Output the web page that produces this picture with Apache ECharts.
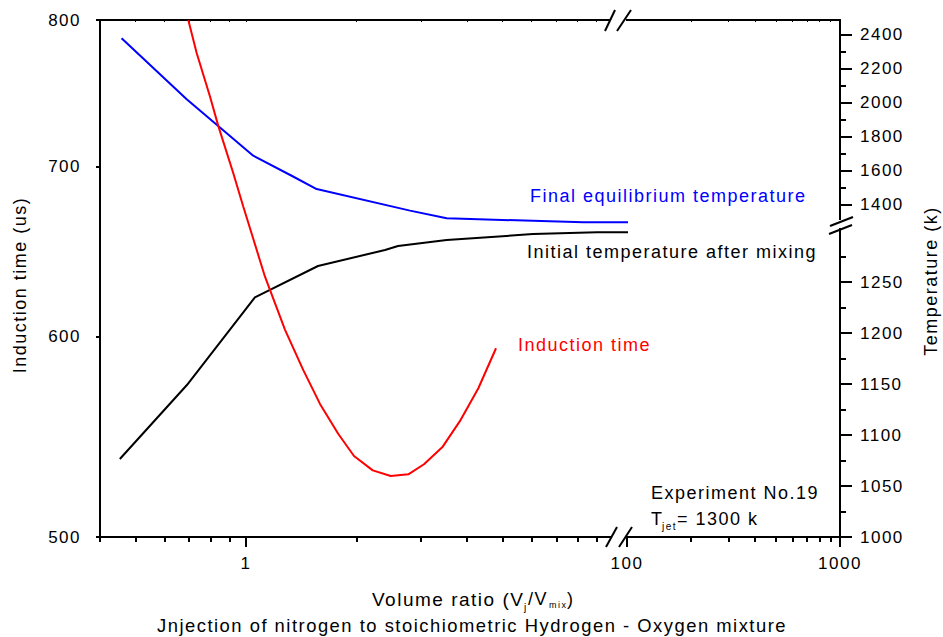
<!DOCTYPE html>
<html>
<head>
<meta charset="utf-8">
<script src="https://cdn.jsdelivr.net/npm/echarts@6/dist/echarts.min.js"></script>
<style>
html, body { margin: 0; padding: 0; background: #fff; }
#chart { width: 943px; height: 637px; }
#chart text { letter-spacing: 1.5px; }
</style>
</head>
<body>
<div id="chart"></div>
<script>
// ---------------- data ----------------
// Induction time (us) vs volume ratio
const inductionRatio = [0.696, 0.7335, 0.7975, 0.840, 0.923, 0.983, 1.126, 1.277, 1.432, 1.590, 1.784, 1.968, 2.214, 2.478, 2.767, 3.053, 3.434, 3.844, 4.294, 4.797];
const inductionTime  = [800, 776.3, 746.2, 726.6, 696, 675.1, 633.5, 603.6, 581.9, 564.3, 549.1, 538.2, 531.2, 528.5, 529.3, 534.2, 542.8, 556.2, 572.4, 593.6];
// Final equilibrium temperature (k)
const finalRatio = [0.458, 0.689, 1.046, 1.331, 1.557, 2.797, 3.52, 8.3, 100];
const finalTemp  = [2381, 2022, 1690, 1572, 1494, 1367, 1322, 1298, 1298];
// Initial temperature after mixing (k)
const initRatio = [0.453, 0.690, 1.057, 1.570, 2.391, 2.594, 3.52, 6.05, 9.04, 100];
const initTemp  = [1076.5, 1149, 1235, 1265.7, 1281.4, 1285.3, 1291.2, 1297, 1298.7, 1298.7];

// tick labels
const inductionTicks = [500, 600, 700, 800];
const upperTempTicks = [1400, 1600, 1800, 2000, 2200, 2400];
const upperTempMinor = [1500, 1700, 1900, 2100, 2300];
const lowerTempTicks = [1000, 1050, 1100, 1150, 1200, 1250];
const lowerTempMinor = [1025, 1075, 1125, 1175, 1225, 1275];
const ratioTicksLow  = [1];
const ratioMinorLow  = [0.4, 0.5, 0.6, 0.7, 0.8, 0.9, 2, 3, 4, 5, 6, 7, 8, 9];
const ratioTicksHigh = [100, 1000];
const ratioMinorHigh = [200, 300, 400, 500, 600, 700, 800, 900];

// ---------------- chart ----------------
const FONT = '"Liberation Sans", Arial, sans-serif';
const zip = (a, b) => a.map((v, i) => [v, b[i]]);
const plain = v => String(v);

const chart = echarts.init(document.getElementById('chart'), null, { renderer: 'svg' });

const lineStyle = { color: '#000', width: 2 };
const tickLbl = { fontFamily: FONT, fontSize: 17, color: '#000', formatter: plain };

const xBase = (grid, min, max) => ({
  type: 'log', logBase: 10, gridIndex: grid, min: min, max: max,
  splitLine: { show: false }, minorTick: { show: false }, minorSplitLine: { show: false }
});
const axLine = show => ({ show: show, onZero: false, lineStyle: lineStyle });

const option = {
  animation: false,
  backgroundColor: '#fff',
  grid: [
    { left: 100, top: 20, width: 527, height: 517 },
    { left: 627, top: 20, width: 213, height: 517 }
  ],
  xAxis: [
    Object.assign(xBase(0, 0.4, 10.91), {
      position: 'bottom',
      axisLine: axLine(true),
      axisTick: { show: true, inside: false, length: 10, lineStyle: lineStyle, customValues: ratioTicksLow },
      axisLabel: Object.assign({ show: true, margin: 18, customValues: ratioTicksLow }, tickLbl)
    }),
    Object.assign(xBase(0, 0.4, 10.91), {
      position: 'bottom',
      axisLine: axLine(false),
      axisTick: { show: true, inside: false, length: 5, lineStyle: lineStyle, customValues: ratioMinorLow },
      axisLabel: { show: false }
    }),
    Object.assign(xBase(0, 0.4, 10.91), {
      position: 'top',
      axisLine: axLine(true),
      axisTick: { show: true, inside: true, length: 2, lineStyle: { color: '#000', width: 1 }, customValues: ratioMinorLow.concat(ratioTicksLow) },
      axisLabel: { show: false }
    }),
    Object.assign(xBase(1, 100, 1000), {
      position: 'bottom',
      axisLine: axLine(true),
      axisTick: { show: true, inside: false, length: 10, lineStyle: lineStyle, customValues: ratioTicksHigh },
      axisLabel: Object.assign({ show: true, margin: 18, showMinLabel: true, showMaxLabel: true, customValues: ratioTicksHigh }, tickLbl)
    }),
    Object.assign(xBase(1, 100, 1000), {
      position: 'bottom',
      axisLine: axLine(false),
      axisTick: { show: true, inside: false, length: 5, lineStyle: lineStyle, customValues: ratioMinorHigh },
      axisLabel: { show: false }
    }),
    Object.assign(xBase(1, 100, 1000), {
      position: 'top',
      axisLine: axLine(true),
      axisTick: { show: true, inside: true, length: 2, lineStyle: { color: '#000', width: 1 }, customValues: ratioMinorHigh },
      axisLabel: { show: false }
    })
  ],
  yAxis: [
    { // 0: induction time, log scale
      type: 'log', logBase: 10, gridIndex: 0, position: 'left', min: 500, max: 800,
      splitLine: { show: false }, minorTick: { show: false },
      axisLine: axLine(true),
      axisTick: { show: true, inside: false, length: 4, lineStyle: lineStyle, customValues: inductionTicks },
      axisLabel: Object.assign({ show: true, margin: 19, customValues: inductionTicks }, tickLbl)
    },
    { // 1: temperature, upper segment (above break)
      type: 'value', gridIndex: 0, position: 'right', offset: 213, min: -552.9, max: 2488.2,
      splitLine: { show: false },
      axisLine: axLine(false),
      axisTick: { show: true, inside: false, length: 12, lineStyle: lineStyle, customValues: upperTempTicks },
      axisLabel: Object.assign({ show: true, margin: 20, customValues: upperTempTicks }, tickLbl)
    },
    { // 2: upper segment minor ticks
      type: 'value', gridIndex: 0, position: 'right', offset: 213, min: -552.9, max: 2488.2,
      splitLine: { show: false },
      axisLine: axLine(false),
      axisTick: { show: true, inside: false, length: 6, lineStyle: lineStyle, customValues: upperTempMinor },
      axisLabel: { show: false }
    },
    { // 3: temperature, lower segment (below break)
      type: 'value', gridIndex: 0, position: 'right', offset: 213, min: 1000, max: 1506.9,
      splitLine: { show: false },
      axisLine: axLine(true),
      axisTick: { show: true, inside: false, length: 12, lineStyle: lineStyle, customValues: lowerTempTicks },
      axisLabel: Object.assign({ show: true, margin: 20, customValues: lowerTempTicks }, tickLbl)
    },
    { // 4: lower segment minor ticks
      type: 'value', gridIndex: 0, position: 'right', offset: 213, min: 1000, max: 1506.9,
      splitLine: { show: false },
      axisLine: axLine(false),
      axisTick: { show: true, inside: false, length: 6, lineStyle: lineStyle, customValues: lowerTempMinor },
      axisLabel: { show: false }
    },
    { type: 'value', gridIndex: 1, show: false, min: 0, max: 1 }
  ],
  series: [
    {
      name: 'Induction time', type: 'line', xAxisIndex: 0, yAxisIndex: 0,
      data: zip(inductionRatio, inductionTime), showSymbol: false, symbol: 'none',
      lineStyle: { color: '#ff0000', width: 2 }, itemStyle: { color: '#ff0000' }, z: 3
    },
    {
      name: 'Final equilibrium temperature', type: 'line', xAxisIndex: 0, yAxisIndex: 1,
      data: zip(finalRatio, finalTemp), showSymbol: false, symbol: 'none',
      lineStyle: { color: '#0000ff', width: 2 }, itemStyle: { color: '#0000ff' }, z: 2
    },
    {
      name: 'Initial temperature after mixing', type: 'line', xAxisIndex: 0, yAxisIndex: 3,
      data: zip(initRatio, initTemp), showSymbol: false, symbol: 'none',
      lineStyle: { color: '#000000', width: 2 }, itemStyle: { color: '#000' }, z: 2
    }
  ],
  graphic: [
    // axis break marks
    { type: 'rect', z: 100, shape: { x: 611, y: 534, width: 15, height: 6 }, style: { fill: '#fff' } },
    { type: 'line', z: 101, shape: { x1: 606, y1: 547, x2: 617, y2: 527 }, style: { stroke: '#000', lineWidth: 2 } },
    { type: 'line', z: 101, shape: { x1: 619, y1: 547, x2: 632, y2: 527 }, style: { stroke: '#000', lineWidth: 2 } },
    { type: 'rect', z: 100, shape: { x: 611, y: 17, width: 15, height: 6 }, style: { fill: '#fff' } },
    { type: 'line', z: 101, shape: { x1: 605, y1: 31, x2: 615, y2: 10 }, style: { stroke: '#000', lineWidth: 2 } },
    { type: 'line', z: 101, shape: { x1: 617, y1: 31, x2: 631, y2: 10 }, style: { stroke: '#000', lineWidth: 2 } },
    { type: 'rect', z: 100, shape: { x: 837, y: 220, width: 6, height: 8 }, style: { fill: '#fff' } },
    { type: 'line', z: 101, shape: { x1: 829, y1: 234, x2: 852, y2: 225 }, style: { stroke: '#000', lineWidth: 2 } },
    { type: 'line', z: 101, shape: { x1: 830, y1: 226, x2: 853, y2: 217 }, style: { stroke: '#000', lineWidth: 2 } },
    // axis titles
    { type: 'text', z: 50, x: 20, y: 285, rotation: Math.PI / 2,
      style: { text: 'Induction time (us)', font: '18px ' + FONT, fill: '#000', textAlign: 'center', textVerticalAlign: 'middle', align: 'center', verticalAlign: 'middle' } },
    { type: 'text', z: 50, x: 931, y: 281, rotation: Math.PI / 2,
      style: { text: 'Temperature (k)', font: '18px ' + FONT, fill: '#000', textAlign: 'center', textVerticalAlign: 'middle', align: 'center', verticalAlign: 'middle' } },
    // x title with subscripts
    { type: 'text', z: 50, x: 372, y: 599, style: { text: 'Volume ratio (V', font: '19px ' + FONT, fill: '#000', textVerticalAlign: 'middle', verticalAlign: 'middle' } },
    { type: 'text', z: 50, x: 524, y: 607, style: { text: 'j', font: '10px ' + FONT, fill: '#000', textVerticalAlign: 'middle', verticalAlign: 'middle' } },
    { type: 'text', z: 50, x: 528, y: 599, style: { text: '/V', font: '18px ' + FONT, fill: '#000', textVerticalAlign: 'middle', verticalAlign: 'middle' } },
    { type: 'text', z: 50, x: 549, y: 605, style: { text: 'mix', font: '9px ' + FONT, fill: '#000', textVerticalAlign: 'middle', verticalAlign: 'middle' } },
    { type: 'text', z: 50, x: 567, y: 599, style: { text: ')', font: '18px ' + FONT, fill: '#000', textVerticalAlign: 'middle', verticalAlign: 'middle' } },
    { type: 'text', z: 50, x: 472, y: 625, style: { text: 'Jnjection of nitrogen to stoichiometric Hydrogen - Oxygen mixture', font: '18.4px ' + FONT, fill: '#000', textAlign: 'center', align: 'center', textVerticalAlign: 'middle', verticalAlign: 'middle' } },
    // curve annotations
    { type: 'text', z: 50, x: 530, y: 196, style: { text: 'Final equilibrium temperature', font: '18px ' + FONT, fill: '#0000ff', textVerticalAlign: 'middle', verticalAlign: 'middle' } },
    { type: 'text', z: 50, x: 527, y: 252, style: { text: 'Initial temperature after mixing', font: '18px ' + FONT, fill: '#000', textVerticalAlign: 'middle', verticalAlign: 'middle' } },
    { type: 'text', z: 50, x: 518, y: 345, style: { text: 'Induction time', font: '18px ' + FONT, fill: '#ff0000', textVerticalAlign: 'middle', verticalAlign: 'middle' } },
    { type: 'text', z: 50, x: 651, y: 493, style: { text: 'Experiment No.19', font: '18px ' + FONT, fill: '#000', textVerticalAlign: 'middle', verticalAlign: 'middle' } },
    { type: 'text', z: 50, x: 651, y: 519, style: { text: 'T', font: '18px ' + FONT, fill: '#000', textVerticalAlign: 'middle', verticalAlign: 'middle' } },
    { type: 'text', z: 50, x: 662, y: 526, style: { text: 'jet', font: '10px ' + FONT, fill: '#000', textVerticalAlign: 'middle', verticalAlign: 'middle' } },
    { type: 'text', z: 50, x: 677, y: 519, style: { text: '= 1300 k', font: '18px ' + FONT, fill: '#000', textVerticalAlign: 'middle', verticalAlign: 'middle' } }
  ]
};

chart.setOption(option);
</script>
</body>
</html>
